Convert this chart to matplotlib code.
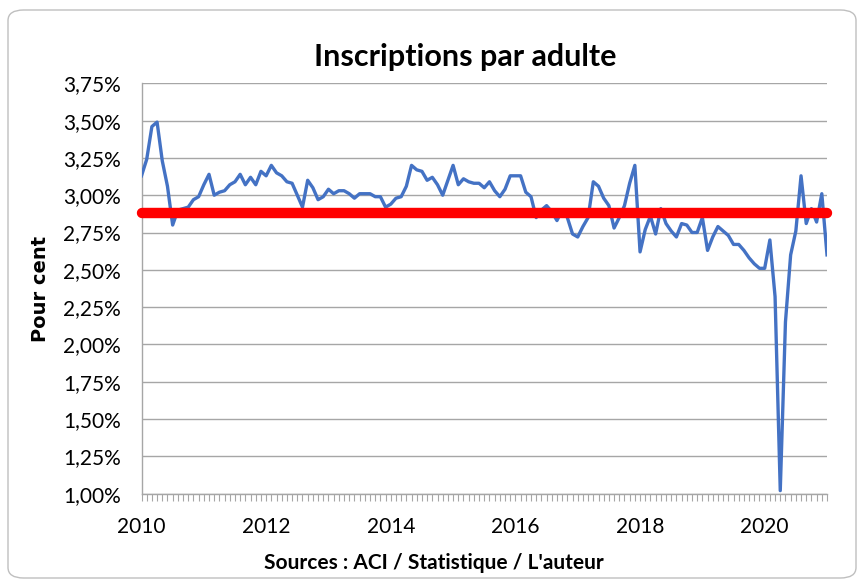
import numpy as np
import matplotlib
matplotlib.use("Agg")
import matplotlib.pyplot as plt
from matplotlib.patches import FancyBboxPatch
from matplotlib.ticker import FixedLocator, FuncFormatter

# Monthly values (%), Jan 2010 .. Jan 2021
valeurs = [
    3.13, 3.24, 3.46, 3.49, 3.23, 3.06, 2.80, 2.90, 2.91, 2.92, 2.97, 2.99,
    3.07, 3.14, 3.00, 3.02, 3.03, 3.07, 3.09, 3.14, 3.07, 3.12, 3.07, 3.16,
    3.13, 3.20, 3.15, 3.13, 3.09, 3.08, 3.00, 2.92, 3.10, 3.05, 2.97, 2.99,
    3.04, 3.01, 3.03, 3.03, 3.01, 2.98, 3.01, 3.01, 3.01, 2.99, 2.99, 2.92,
    2.94, 2.98, 2.99, 3.06, 3.20, 3.17, 3.16, 3.10, 3.12, 3.07, 3.00, 3.10,
    3.20, 3.07, 3.11, 3.09, 3.08, 3.08, 3.05, 3.09, 3.03, 2.99, 3.04, 3.13,
    3.13, 3.13, 3.02, 2.99, 2.85, 2.90, 2.93, 2.89, 2.83, 2.90, 2.85, 2.74,
    2.72, 2.79, 2.85, 3.09, 3.06, 2.98, 2.93, 2.78, 2.85, 2.93, 3.08, 3.20,
    2.62, 2.77, 2.86, 2.74, 2.91, 2.81, 2.76, 2.72, 2.81, 2.80, 2.75, 2.75,
    2.85, 2.63, 2.72, 2.79, 2.76, 2.73, 2.67, 2.67, 2.63, 2.58, 2.54, 2.51,
    2.51, 2.70, 2.32, 1.02, 2.15, 2.60, 2.76, 3.13, 2.81, 2.91, 2.82, 3.01,
    2.60,
]
annee_debut = 2010
moyenne = 2.88
y_ticks = [1.00, 1.25, 1.50, 1.75, 2.00, 2.25, 2.50, 2.75, 3.00, 3.25, 3.50, 3.75]
x_ticks = [2010, 2012, 2014, 2016, 2018, 2020]

titre = "Inscriptions par adulte"
label_y = "Pour cent"
label_x = "Sources : ACI / Statistique / L'auteur"

mois = np.arange(len(valeurs))
x = annee_debut + mois / 12.0

W, H = 865, 586
fig = plt.figure(figsize=(W / 100, H / 100), dpi=100)
fig.patch.set_facecolor("white")

# rounded chart border
border = FancyBboxPatch((8 / W, 8 / H), (W - 17) / W, (H - 18) / H,
                        boxstyle="round,pad=0,rounding_size=0.018",
                        transform=fig.transFigure, facecolor="none",
                        edgecolor="#bfbfbf", linewidth=1.0, zorder=-1)
fig.patches.append(border)

left, right, top, bottom = 141.5, 827, 83.3, 493.6
ax = fig.add_axes([left / W, 1 - bottom / H, (right - left) / W, (bottom - top) / H])
ax.set_facecolor("none")

ax.set_xlim(annee_debut, annee_debut + (len(valeurs) - 1) / 12.0)
ax.set_ylim(1.0, 3.75)

ax.yaxis.set_major_locator(FixedLocator(y_ticks))
ax.yaxis.set_major_formatter(FuncFormatter(lambda v, p: f"{v:.2f}".replace(".", ",") + "%"))
ax.xaxis.set_major_locator(FixedLocator(x_ticks))
ax.xaxis.set_minor_locator(FixedLocator(list(x)))
ax.xaxis.set_major_formatter(FuncFormatter(lambda v, p: f"{int(round(v))}"))

ax.grid(axis="y", color="#a6a6a6", linewidth=1.0, zorder=0)
ax.set_axisbelow(True)
for s in ["top", "right"]:
    ax.spines[s].set_visible(False)
ax.spines["left"].set_color("#a6a6a6")
ax.spines["bottom"].set_color("#a6a6a6")
ax.spines["left"].set_linewidth(1.0)
ax.spines["bottom"].set_linewidth(1.0)

font = "Lato"
ax.tick_params(axis="y", length=0, pad=15, labelsize=15, labelcolor="black")
ax.tick_params(axis="x", which="both", direction="out", length=5, width=0.8,
               color="#a6a6a6", labelsize=15, pad=12)
for lab in ax.get_xticklabels() + ax.get_yticklabels():
    lab.set_fontfamily(font)

ax.plot(x, valeurs, color="#4472C4", linewidth=2.4, zorder=3, solid_joinstyle="round")
ax.plot([x[0], x[-1]], [moyenne, moyenne], color="#FF0000", linewidth=7.5,
        solid_capstyle="round", zorder=4, clip_on=False)

fig.text(465 / W, 1 - 57 / H, titre, ha="center", va="center", fontsize=22,
         fontweight="bold", fontfamily=font)
fig.text(40 / W, 1 - 289 / H, label_y, ha="center", va="center", rotation=90,
         fontsize=14, fontweight="bold", fontfamily="DejaVu Sans")
fig.text(434 / W, 1 - 563 / H, label_x, ha="center", va="center", fontsize=15,
         fontweight="bold", fontfamily=font)

fig.savefig("out.png", dpi=100)
